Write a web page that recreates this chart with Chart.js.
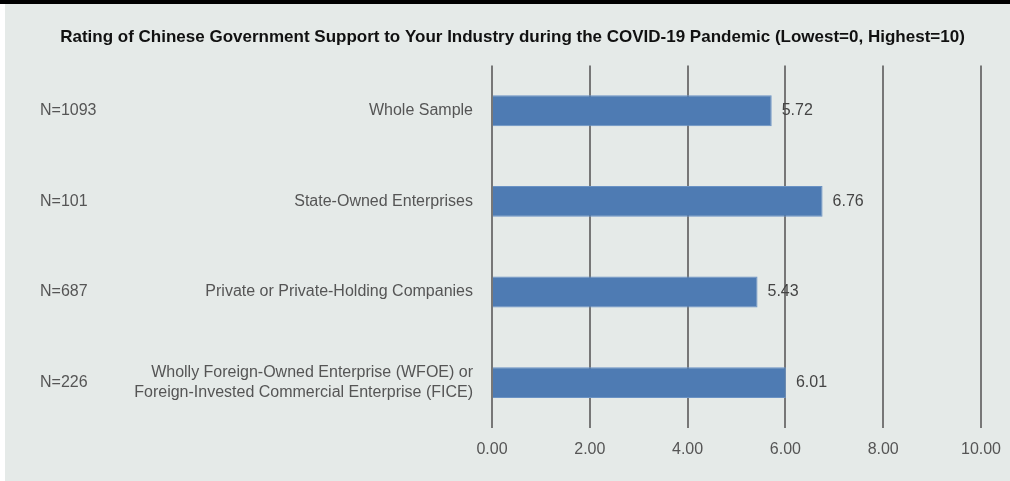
<!DOCTYPE html>
<html>
<head>
<meta charset="utf-8">
<script src="https://cdn.jsdelivr.net/npm/chart.js@4"></script>
<style>
  html, body { margin: 0; padding: 0; background: #fff; }
  .topbar { height: 4px; background: #000; width: 1010px; }
  .wrap { position: absolute; left: 5px; top: 4px; width: 1005px; height: 477px; background: #e5eae8; }
</style>
</head>
<body>
<div class="topbar"></div>
<div class="wrap"><canvas id="chart"></canvas></div>
<script>
// ── Data ──
const categories = [
  ["Whole Sample"],
  ["State-Owned Enterprises"],
  ["Private or Private-Holding Companies"],
  ["Wholly Foreign-Owned Enterprise (WFOE) or", "Foreign-Invested Commercial Enterprise (FICE)"]
];
const sampleSizes = ["N=1093", "N=101", "N=687", "N=226"];
const ratings     = [5.72, 6.76, 5.43, 6.01];
const tickValues  = [0, 2, 4, 6, 8, 10];

const FONT = "'Liberation Sans', Arial, sans-serif";

// N= labels on the far left
const sampleLabels = {
  id: "sampleLabels",
  afterDraw(chart) {
    const { ctx, scales: { y } } = chart;
    ctx.save();
    ctx.font = `16px ${FONT}`;
    ctx.fillStyle = "#555";
    ctx.textAlign = "left";
    ctx.textBaseline = "middle";
    sampleSizes.forEach((s, i) => ctx.fillText(s, 35, y.getPixelForValue(i)));
    ctx.restore();
  }
};

// value labels at bar ends
const valueLabels = {
  id: "valueLabels",
  afterDatasetsDraw(chart) {
    const { ctx } = chart;
    const meta = chart.getDatasetMeta(0);
    ctx.save();
    ctx.font = `16px ${FONT}`;
    ctx.fillStyle = "#444";
    ctx.textAlign = "left";
    ctx.textBaseline = "middle";
    meta.data.forEach((bar, i) => ctx.fillText(ratings[i].toFixed(2), bar.x + 10, bar.y));
    ctx.restore();
  }
};

new Chart(document.getElementById("chart"), {
  type: "bar",
  data: {
    labels: categories,
    datasets: [{
      data: ratings,
      backgroundColor: "#4e7bb3",
      borderColor: "#6a92c4",
      borderWidth: { top: 1, bottom: 1, left: 0, right: 1 },
      borderSkipped: false,
      barPercentage: 0.34,
      categoryPercentage: 1
    }]
  },
  options: {
    indexAxis: "y",
    responsive: true,
    maintainAspectRatio: false,
    animation: false,
    layout: { padding: { top: 0, right: 29, bottom: 0, left: 39 } },
    plugins: {
      legend: { display: false },
      tooltip: { enabled: false },
      title: {
        display: true,
        text: "Rating of Chinese Government Support to Your Industry during the COVID-19 Pandemic (Lowest=0, Highest=10)",
        color: "#111",
        font: { size: 17, family: FONT, weight: "bold" },
        padding: { top: 23, bottom: 18 }
      }
    },
    scales: {
      x: {
        min: 0,
        max: 10,
        afterBuildTicks: axis => { axis.ticks = tickValues.map(v => ({ value: v })); },
        ticks: {
          color: "#555",
          font: { size: 16, family: FONT },
          padding: 12,
          callback: v => v.toFixed(2)
        },
        grid: { color: "#777", lineWidth: 2, drawTicks: false },
        border: { display: false },
        afterFit: axis => { axis.height = 53; axis.paddingRight = 0; axis.paddingLeft = 0; }
      },
      y: {
        ticks: {
          color: "#555",
          font: { size: 16, family: FONT, lineHeight: 1.3 },
          padding: 11
        },
        grid: { display: false },
        border: { display: false },
        afterFit: axis => { axis.width = 448; }
      }
    }
  },
  plugins: [sampleLabels, valueLabels]
});
</script>
</body>
</html>
